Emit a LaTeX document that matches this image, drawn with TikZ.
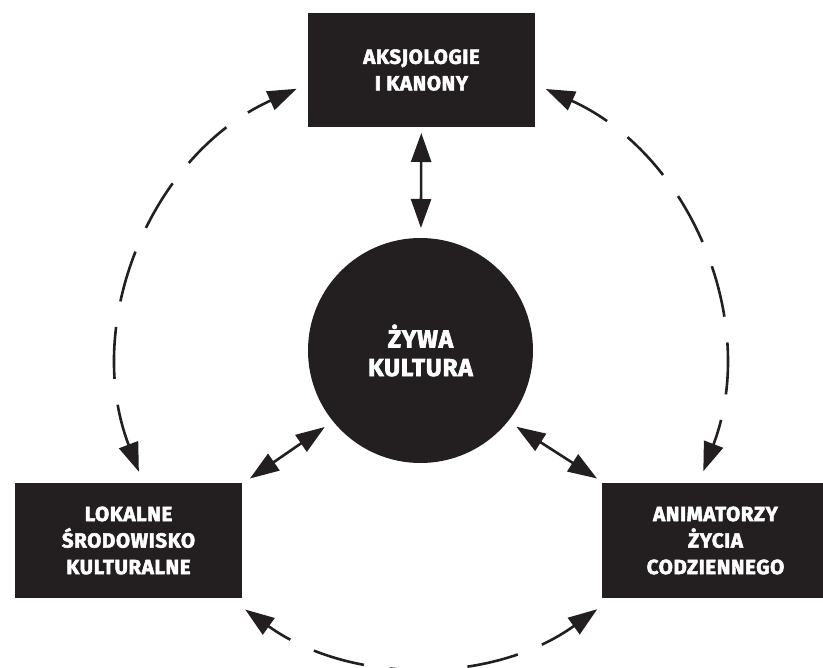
\documentclass[tikz,border=0pt]{standalone}
\usepackage{fontspec}
\setmainfont{Fira Sans}[BoldFeatures={FakeBold=2.5,LetterSpace=3}]
\usepackage{xcolor}
\usepackage{tikz}
\usetikzlibrary{arrows.meta}
\definecolor{ink}{HTML}{231F20}
\definecolor{paper}{HTML}{FFFFFF}
\tikzset{
  box/.style={fill=ink, text=paper, minimum width=227pt, minimum height=114pt, inner sep=0pt, outer sep=0pt, align=center, font=\fontsize{20.5}{26.5}\selectfont\bfseries},
  core/.style={circle, fill=ink, text=paper, minimum size=225pt, inner sep=0pt, outer sep=0pt, align=center, font=\fontsize{24.5}{28.5}\selectfont\bfseries},
  link/.style={draw=ink, line width=2.6pt, {Triangle[length=29pt,width=20pt]}-{Triangle[length=29pt,width=20pt]}},
  orbit/.style={link, dash pattern=on 52pt off 26pt, dash phase=26pt},
}

\begin{document}
\begin{tikzpicture}[x=1pt,y=1pt]
  \def\R{302}
  \useasboundingbox (0,0) rectangle (823,-668);
  \coordinate (O) at (421,-364);
  \node[box] (axio) at (421.5,-70) {AKSJOLOGIE\\I KANONY};
  \node[box] (local) at (128.5,-540.5) {LOKALNE\\ŚRODOWISKO\\KULTURALNE};
  \node[box] (anim) at (715.5,-540.5) {ANIMATORZY\\ŻYCIA\\CODZIENNEGO};
  \node[core] (live) at (420.5,-350.5) {ŻYWA\\KULTURA};
  \coordinate (localT) at ([xshift=8pt,yshift=5pt]local.north east);
  \coordinate (animT) at ([xshift=-5pt,yshift=5pt]anim.north west);
  \draw[link, shorten <=6pt, shorten >=10pt] (axio) -- (live);
  \draw[link, shorten >=10pt] (localT) -- (live.219);
  \draw[link, shorten <=10pt] (live.321) -- (animT);
  \coordinate (westA) at ([shift={(114.3:\R)}]O);
  \coordinate (southA) at ([shift={(234.4:\R)}]O);
  \coordinate (eastA) at ([shift={(339.2:\R)}]O);
  \draw[orbit] (westA) arc[start angle=114.3, end angle=200.9, radius=\R];
  \draw[orbit] (southA) arc[start angle=234.4, end angle=305.7, radius=\R];
  \draw[orbit] (eastA) arc[start angle=339.2, end angle=425.6, radius=\R];
\end{tikzpicture}
\end{document}
